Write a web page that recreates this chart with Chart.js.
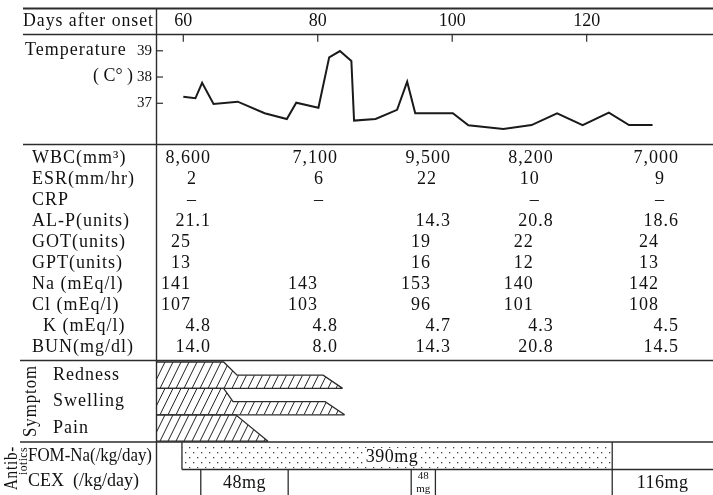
<!DOCTYPE html>
<html><head><meta charset="utf-8">
<script src="https://cdn.jsdelivr.net/npm/chart.js@4/dist/chart.umd.min.js"></script>
<style>html,body{margin:0;padding:0;background:#fff}canvas{display:block}</style>
</head><body>
<canvas id="c" width="713" height="495"></canvas>
<script>
// ---------------- data ----------------
const tempDays   = [60, 61.8, 62.8, 64.5, 68.1, 72.1, 75.4, 76.8, 80.1, 81.7, 83.3, 85.0, 85.4, 88.6, 91.8, 93.3, 94.5, 100.1, 102.4, 107.6, 111.8, 115.6, 119.4, 123.3, 126.3, 129.8];
const tempValues = [37.25, 37.19, 37.78, 36.97, 37.06, 36.62, 36.40, 37.02, 36.83, 38.75, 38.99, 38.61, 36.34, 36.40, 36.75, 37.82, 36.62, 36.62, 36.16, 36.02, 36.17, 36.62, 36.17, 36.64, 36.17, 36.17];
const dayTicks  = [60, 80, 100, 120];
const tempTicks = [37, 38, 39];

const labDays  = [60.7, 79.6, 96.4, 111.7, 130.3];
const labNames = ['WBC(mm³)', 'ESR(mm/hr)', 'CRP', 'AL-P(units)', 'GOT(units)', 'GPT(units)', 'Na (mEq/l)', 'Cl (mEq/l)', 'K (mEq/l)', 'BUN(mg/dl)'];
const wbcValues = ['8,600', '7,100', '9,500', '8,200', '7,000'];
const esrValues = ['2', '6', '22', '10', '9'];
const crpValues = ['–', '–', '', '–', '–'];
const alpValues = ['21.1', '', '14.3', '20.8', '18.6'];
const gotValues = ['25', '', '19', '22', '24'];
const gptValues = ['13', '', '16', '12', '13'];
const naValues  = ['141', '143', '153', '140', '142'];
const clValues  = ['107', '103', '96', '101', '108'];
const kValues   = ['4.8', '4.8', '4.7', '4.3', '4.5'];
const bunValues = ['14.0', '8.0', '14.3', '20.8', '14.5'];

const symptomNames   = ['Redness', 'Swelling', 'Pain'];
const rednessDays    = [56, 66, 68, 80.8, 83.7];
const rednessLevels  = [2, 2, 1, 1, 0];
const swellingDays   = [56, 66, 67.4, 81.1, 84];
const swellingLevels = [2, 2, 1, 1, 0];
const painDays       = [56, 67.8, 72.6];
const painLevels     = [2, 2, 0];

const fomDays   = [59.8, 123.8];
const fomDose   = '390mg';
const cexStarts = [62.6, 93.9, 123.8];
const cexEnds   = [75.6, 97.5, 145];
const cexDoses  = ['48mg', '48|mg', '116mg'];

// ---------------- drawing ----------------
const FONT = s => `${s}px "Liberation Serif", "DejaVu Serif", serif`;
const INK = '#111', RULE = '#2c2c2c';

const clinicalPlugin = {
  id: 'clinical',
  afterDraw(chart) {
    const ctx = chart.ctx;
    const xs = chart.scales.x, ys = chart.scales.y, ca = chart.chartArea;
    const X = d => Math.max(ca.left, Math.min(chart.width, xs.getPixelForValue(d)));
    const Y = t => ys.getPixelForValue(t);
    const W = chart.width, H = chart.height;

    function line(x1, y1, x2, y2, w = 1.3, col = RULE) {
      ctx.save(); ctx.strokeStyle = col; ctx.lineWidth = w;
      ctx.beginPath(); ctx.moveTo(x1, y1); ctx.lineTo(x2, y2); ctx.stroke(); ctx.restore();
    }
    function text(s, x, y, size, align = 'left', maxW, ls = 1) {
      ctx.save(); ctx.font = FONT(size); ctx.fillStyle = INK; ctx.textAlign = align;
      ctx.textBaseline = 'middle'; ctx.letterSpacing = ls + 'px';
      if (maxW) ctx.fillText(s, x, y, maxW); else ctx.fillText(s, x, y);
      ctx.restore();
    }
    function rtext(s, cx, cy, size, maxW, ls = 1) {
      ctx.save(); ctx.translate(cx, cy); ctx.rotate(-Math.PI / 2);
      ctx.font = FONT(size); ctx.fillStyle = INK; ctx.textAlign = 'center';
      ctx.textBaseline = 'middle'; ctx.letterSpacing = ls + 'px';
      if (maxW) ctx.fillText(s, 0, 0, maxW); else ctx.fillText(s, 0, 0);
      ctx.restore();
    }

    // ---- frame rules ----
    line(23, 8.5, W, 8.5, 2);
    line(23, 34.5, W, 34.5, 1.3);
    line(23, 144.5, W, 144.5, 1.3);
    line(20, 360.5, W, 360.5, 1.3);
    line(20, 442, W, 442, 1.3);
    line(156.5, 8, 156.5, H, 1.4);

    // ---- header & temperature axis ----
    text('Days after onset', 23, 21.7, 18, 'left', 131, 1);
    dayTicks.forEach(d => {
      text(String(d), X(d), 21.7, 18, 'center', null, 0);
      line(X(d), 34.5, X(d), 41.7, 1.2);
    });
    text('Temperature', 25, 50.7, 18, 'left', 105, 1);
    text('( C° )', 93, 76.7, 18, 'left', 40, 0);
    tempTicks.forEach(t => {
      text(String(t), 152, Y(t), 15, 'right', null, 0);
      line(156.5, Y(t), 163, Y(t), 1.2);
    });

    // ---- lab table ----
    const rows = [wbcValues, esrValues, crpValues, alpValues, gotValues, gptValues, naValues, clValues, kValues, bunValues];
    const rowOffset = [0, -14, -18, 0, -20, -20, -20, -20, 0, 0];
    const rowAlign  = ['right', 'right', 'center', 'right', 'right', 'right', 'right', 'right', 'right', 'right'];
    rows.forEach((vals, i) => {
      const y = 158.3 + 21 * i;
      text(labNames[i], labNames[i].startsWith('K') ? 43 : 32, y, 18, 'left', null, 1);
      vals.forEach((v, j) => {
        if (!v) return;
        const R = xs.getPixelForValue(labDays[j]) + 22;
        text(v, R + rowOffset[i] + (rowAlign[i] === 'right' ? 1 : 0), y, 18, rowAlign[i], null, 1);
      });
    });

    // ---- symptoms ----
    const bandTop = 362, bandH = 26.4;
    const bands = [[rednessDays, rednessLevels], [swellingDays, swellingLevels], [painDays, painLevels]];
    bands.forEach(([days, lv], i) => {
      const top = bandTop + i * bandH, bot = top + bandH;
      const pts = days.map((d, k) => [X(d), bot - lv[k] / 2 * bandH]);
      const endX = pts[pts.length - 1][0];
      ctx.save();
      ctx.beginPath(); ctx.moveTo(ca.left, bot);
      pts.forEach(p => ctx.lineTo(p[0], p[1]));
      ctx.lineTo(ca.left, bot); ctx.closePath(); ctx.clip();
      ctx.strokeStyle = '#222'; ctx.lineWidth = 1;
      ctx.beginPath();
      for (let x0 = ca.left - 20; x0 < endX + 20; x0 += 8) {
        ctx.moveTo(x0, bot); ctx.lineTo(x0 + 13, top);
      }
      ctx.stroke(); ctx.restore();
      ctx.save(); ctx.strokeStyle = RULE; ctx.lineWidth = 1.3; ctx.beginPath();
      ctx.moveTo(pts[0][0], pts[0][1]); pts.forEach(p => ctx.lineTo(p[0], p[1]));
      ctx.moveTo(ca.left, bot); ctx.lineTo(endX, bot);
      ctx.stroke(); ctx.restore();
      text(symptomNames[i], 53, top + bandH / 2, 18, 'left', null, 1);
    });
    rtext('Symptom', 31, 401, 18, 72, 1);

    // ---- antibiotics ----
    const fTop = 442, fBot = 469.5;
    const pc = document.createElement('canvas'); pc.width = 8; pc.height = 10;
    const p = pc.getContext('2d'); p.fillStyle = '#444';
    p.fillRect(1, 2, 1.3, 1.3); p.fillRect(5, 7, 1.3, 1.3);
    const fx1 = X(fomDays[0]), fx2 = X(fomDays[1]);
    ctx.save(); ctx.fillStyle = ctx.createPattern(pc, 'repeat');
    ctx.fillRect(fx1, fTop + 2, fx2 - fx1, fBot - fTop - 3); ctx.restore();
    line(fx1, fTop, fx1, fBot, 1.3);
    line(fx1, fBot, W, fBot, 1.3);
    ctx.save(); ctx.font = FONT(18); const tw = ctx.measureText(fomDose).width; ctx.restore();
    const fc = (fx1 + fx2) / 2 - 5;
    ctx.save(); ctx.fillStyle = '#fff'; ctx.fillRect(fc - tw / 2 - 2, fTop + 6, tw + 4, 18); ctx.restore();
    text(fomDose, fc, 457, 18, 'center', null, 0.5);

    cexStarts.forEach((s, k) => {
      const a = X(s), b = X(cexEnds[k]);
      line(a, (k === 2 ? fTop : fBot), a, H, 1.3);
      if (b < W - 1) line(b, fBot, b, H, 1.3);
      const c = (a + Math.min(b, W)) / 2;
      const dose = cexDoses[k];
      if (dose.includes('|')) {
        const [t1, t2] = dose.split('|');
        text(t1, c, 476, 11, 'center', null, 0);
        text(t2, c, 489, 11, 'center', null, 0);
      } else {
        text(dose, c, 483, 18, 'center', null, 0.5);
      }
    });

    text('FOM-Na(/kg/day)', 28, 456.7, 18, 'left', 124, 0);
    text('CEX  (/kg/day)', 28, 481, 18, 'left', 115, 0);
    rtext('Antib-', 12, 468, 18, 44, 1);
    rtext('iotics', 24, 461, 13, 28, 0.5);
  }
};

new Chart(document.getElementById('c'), {
  type: 'line',
  data: {
    datasets: [{
      data: tempDays.map((d, i) => ({ x: d, y: tempValues[i] })),
      borderColor: '#1a1a1a', borderWidth: 2, pointRadius: 0, tension: 0, fill: false
    }]
  },
  options: {
    responsive: false, animation: false, devicePixelRatio: 1, events: [],
    layout: { padding: { left: 156, right: 0, top: 34.5, bottom: 350 } },
    plugins: { legend: { display: false }, tooltip: { enabled: false } },
    scales: {
      x: { type: 'linear', min: 55.94, max: 138.79, display: false },
      y: { min: 35.41, max: 39.62, display: false }
    }
  },
  plugins: [clinicalPlugin]
});
</script>
</body></html>
